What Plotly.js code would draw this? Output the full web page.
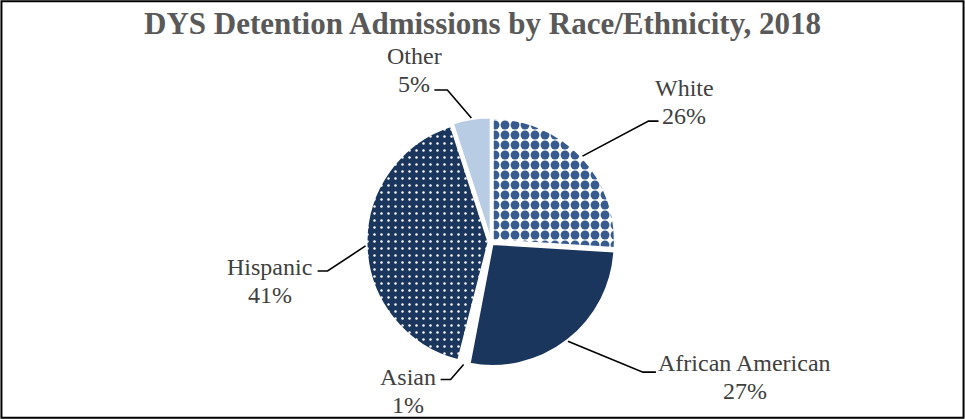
<!DOCTYPE html>
<html>
<head>
<meta charset="utf-8">
<script src="https://cdn.plot.ly/plotly-3.0.1.min.js"></script>
<style>html,body{margin:0;padding:0;background:#fff;}#chart{width:965px;height:419px;}</style>
</head>
<body>
<div id="chart"></div>
<script>
const categories = ["White", "African American", "Asian", "Hispanic", "Other"];
const values = [26, 27, 1, 41, 5];
// label block offset from leader tip [dx, dy] and leader elbow offset [dx, dy, horizontal run]
const labelOffsets = [[102, -54], [177, 36], [-56, 27], [-96, 35], [-57, -48]];
const elbowOffsets = [[66, -35, 10], [75, 31, 13], [-13, 15, -10], [-38, 25, -10], [-24, -28, -13]];

const W = 965, H = 419;
const cx = 491, cy = 242, side = 249, pull = 0.02;
const r = side / (2 + 2 * pull);

const bg = ["#ffffff", "#1a365d", "#ffffff", "#1a365d", "#b8cce4"];
const fg = ["#375b8e", "#1a365d", "#ffffff", "#ffffff", "#b8cce4"];
const shapes = [".", "", "", ".", ""];
const sizes = [10, 8, 8, 7, 8];
const sol = [0.62, 0.3, 0.3, 0.1, 0.3];

const fontFam = "Liberation Serif, Times New Roman, serif";
const total = values.reduce((a, b) => a + b, 0);
let cum = 0;
const annotations = [];
const leaders = [];
const toX = px => px / W, toY = py => 1 - py / H;
values.forEach((v, i) => {
  const mid = (cum + v / 2) / total * 2 * Math.PI;
  cum += v;
  const rr = r + r * pull + 1;
  const tx = cx + rr * Math.sin(mid);
  const ty = cy - rr * Math.cos(mid);
  const ex = tx + elbowOffsets[i][0], ey = ty + elbowOffsets[i][1];
  const hx = ex + elbowOffsets[i][2];
  leaders.push({
    type: "path", xref: "paper", yref: "paper",
    path: "M" + toX(tx) + "," + toY(ty) + " L" + toX(ex) + "," + toY(ey) + " L" + toX(hx) + "," + toY(ey),
    line: {color: "#000", width: 1.6}
  });
  const lx = tx + labelOffsets[i][0], ly = ty + labelOffsets[i][1];
  const lines = [categories[i], Math.round(v / total * 100) + "%"];
  lines.forEach((t, k) => {
    annotations.push({
      x: toX(lx), y: toY(ly + (k === 0 ? -14 : 14)), xref: "paper", yref: "paper",
      xanchor: "center", yanchor: "middle",
      text: t, showarrow: false,
      font: {family: fontFam, size: 24, color: "#404040"}
    });
  });
});

const data = [{
  type: "pie",
  labels: categories,
  values: values,
  sort: false,
  direction: "clockwise",
  rotation: 0,
  pull: pull,
  textinfo: "none",
  hoverinfo: "label+percent",
  marker: {
    colors: bg,
    line: {color: "#ffffff", width: 2},
    pattern: {shape: shapes, fgcolor: fg, bgcolor: bg, size: sizes, solidity: sol, fillmode: "replace"}
  },
  domain: {x: [(cx - side / 2) / W, (cx + side / 2) / W], y: [1 - (cy + side / 2) / H, 1 - (cy - side / 2) / H]},
  showlegend: false
}];

const layout = {
  width: W, height: H,
  margin: {l: 0, r: 0, t: 0, b: 0},
  paper_bgcolor: "#fff",
  title: {
    text: "<b>DYS Detention Admissions by Race/Ethnicity, 2018</b>",
    font: {family: fontFam, size: 31, color: "#595959"},
    x: 0.5, xanchor: "center", y: 1 - 23 / H, yanchor: "middle"
  },
  annotations: annotations,
  shapes: leaders.concat([{type: "rect", xref: "paper", yref: "paper", x0: 0.0015, x1: 0.9985, y0: 0.003, y1: 0.997,
            line: {color: "#000", width: 2}}])
};

Plotly.newPlot("chart", data, layout, {displayModeBar: false, staticPlot: true});
</script>
</body>
</html>
